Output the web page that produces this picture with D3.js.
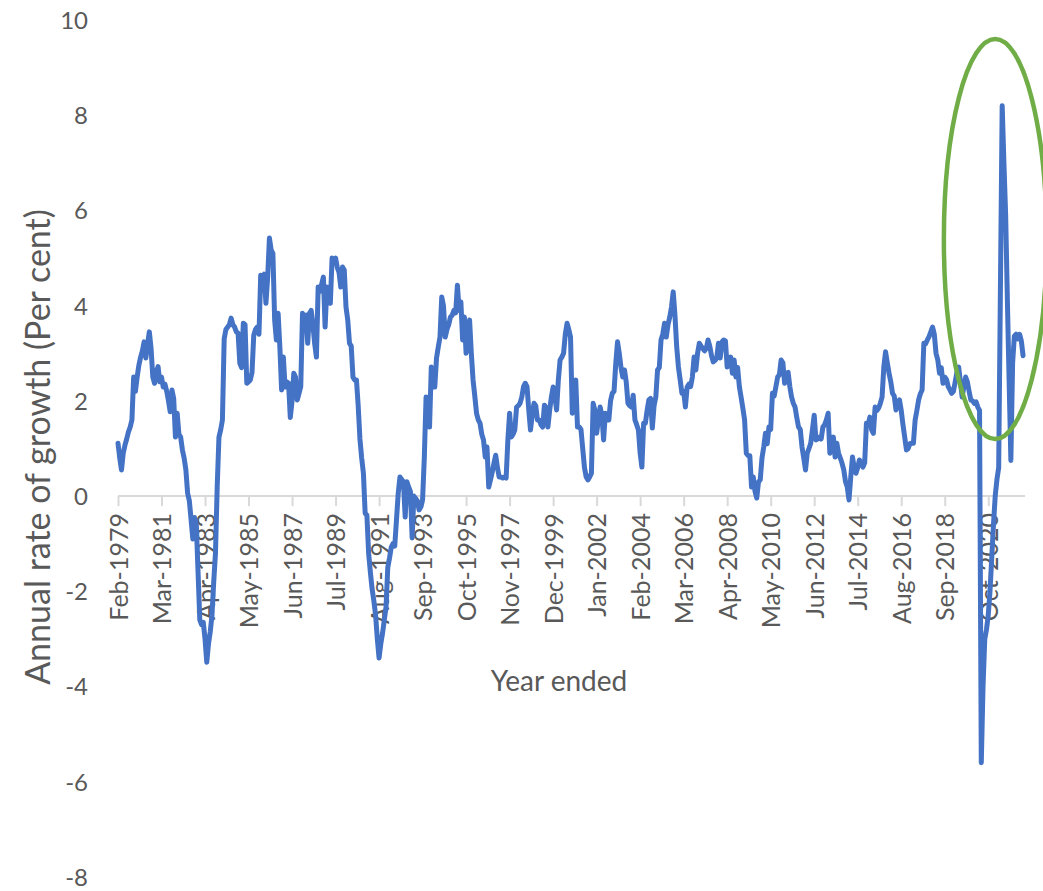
<!DOCTYPE html>
<html>
<head>
<meta charset="utf-8">
<script src="https://cdn.jsdelivr.net/npm/d3@7/dist/d3.min.js"></script>
<style>
  html, body { margin: 0; padding: 0; background: #ffffff; }
  svg { display: block; }
  text { font-family: Lato, "Open Sans", "Liberation Sans", sans-serif; fill: #595959; }
</style>
</head>
<body>
<svg id="chart" width="1043" height="891"></svg>
<script>
// Monthly series, year ended: first observation Feb-1979
const startMonth = new Date(1979, 1, 1);

// Annual rate of growth (per cent), one value per month
const growth = [
  1.11, 0.8, 0.55, 0.9, 1.07, 1.2, 1.35, 1.45, 1.6, 2.5, 2.2, 2.5,
  2.75, 2.92, 3.05, 3.24, 2.9, 3.2, 3.45, 3.1, 2.5, 2.37, 2.6, 2.72,
  2.4, 2.5, 2.29, 2.35, 2.2, 2.0, 1.77, 2.23, 2.05, 1.24, 1.74, 1.3,
  1.24, 0.97, 0.8, 0.55, 0.06, -0.1, -0.5, -0.9, -0.45, -0.6, -1.6, -2.6,
  -2.7, -2.65, -3.0, -3.49, -3.1, -2.85, -2.5, -1.8, -1.2, 0.2, 1.24, 1.39,
  1.6, 3.3, 3.5, 3.55, 3.6, 3.74, 3.6, 3.55, 3.45, 3.42, 2.79, 2.7,
  3.63, 3.6, 2.37, 2.4, 2.44, 2.6, 3.38, 3.5, 3.55, 3.4, 4.64, 4.6,
  4.66, 4.05, 4.6, 5.42, 5.17, 5.1, 3.7, 3.28, 3.84, 3.13, 2.23, 2.92,
  2.29, 2.4, 2.37, 1.65, 2.0, 2.58, 2.5, 2.02, 2.16, 2.3, 3.84, 3.7,
  3.8, 3.21, 3.84, 3.9, 3.6, 3.2, 2.92, 4.39, 4.3, 4.45, 4.6, 3.55,
  4.39, 4.2, 4.05, 5.0, 4.9, 5.0, 4.8, 4.7, 4.39, 4.81, 4.75, 3.97,
  3.7, 3.21, 3.15, 2.5, 2.44, 2.44, 1.9, 1.2, 0.8, 0.48, -0.36, -0.4,
  -1.2, -1.6, -1.95, -2.2, -2.5, -3.0, -3.4, -3.1, -2.88, -2.6, -2.33, -1.5,
  -1.3, -1.07, -1.0, -1.05, -0.5, 0.06, 0.4, 0.35, 0.3, -0.44, 0.3, 0.19,
  0.1, -0.88, 0.0, -0.05, -0.1, -0.29, -0.23, -0.08, 0.82, 2.08, 1.8, 1.45,
  2.71, 2.6, 2.29, 2.9, 3.13, 3.34, 4.18, 4.0, 3.34, 3.5, 3.6, 3.76,
  3.8, 3.9, 3.85, 4.43, 3.9, 4.08, 3.28, 3.76, 3.0, 3.3, 3.7, 3.0,
  2.44, 2.1, 1.74, 1.6, 1.53, 1.3, 1.18, 0.82, 1.03, 0.19, 0.34, 0.5,
  0.69, 0.86, 0.6, 0.4, 0.4, 0.38, 0.4, 0.38, 1.18, 1.74, 1.24, 1.3,
  1.39, 1.87, 1.9, 1.95, 2.08, 2.3, 2.37, 2.3, 1.81, 1.39, 1.7, 1.95,
  1.9, 1.6, 1.6, 1.5, 1.45, 1.91, 1.85, 1.45, 1.8, 2.08, 2.29, 2.1,
  1.81, 2.44, 2.86, 2.92, 3.0, 3.4, 3.63, 3.5, 3.34, 1.74, 1.9, 2.44,
  1.45, 1.45, 1.4, 1.0, 0.6, 0.4, 0.34, 0.4, 0.48, 1.95, 1.8, 1.32,
  1.6, 1.87, 1.7, 1.18, 1.74, 1.65, 1.6, 2.0, 2.16, 2.2, 2.79, 3.24,
  3.0, 2.7, 2.5, 2.65, 2.4, 1.95, 1.9, 1.87, 2.12, 1.6, 1.5, 1.39,
  0.9, 0.61, 1.53, 1.53, 1.8, 2.02, 2.05, 1.43, 1.9, 2.08, 2.65, 2.7,
  3.28, 3.4, 3.63, 3.34, 3.6, 3.76, 3.97, 4.29, 3.8, 3.13, 2.71, 2.44,
  2.16, 2.2, 1.87, 2.29, 2.35, 2.3, 2.5, 2.92, 2.65, 3.0, 3.21, 3.15,
  3.1, 3.05, 3.1, 3.28, 3.15, 2.95, 2.82, 2.85, 2.9, 3.21, 2.9, 3.24,
  3.28, 3.26, 2.71, 2.8, 2.92, 2.58, 2.86, 2.5, 2.7, 2.3, 2.08, 1.85,
  1.6, 0.9, 0.85, 0.85, 0.19, 0.4, 0.1, -0.04, 0.3, 0.34, 0.8, 1.03,
  1.32, 1.1, 1.45, 1.4, 2.16, 2.1, 2.3, 2.5, 2.55, 2.86, 2.8, 2.37,
  2.58, 2.6, 2.3, 2.08, 1.95, 1.87, 1.65, 1.45, 1.4, 1.03, 0.8, 0.55,
  0.9, 1.0, 1.11, 1.4, 1.7, 1.18, 1.2, 1.24, 1.2, 1.45, 1.5, 1.6,
  1.74, 0.9, 1.1, 1.24, 0.82, 1.11, 0.9, 0.8, 0.69, 0.55, 0.3, 0.19,
  -0.08, 0.4, 0.82, 0.6, 0.48, 0.6, 0.76, 0.7, 0.61, 0.7, 1.53, 1.5,
  1.66, 1.39, 1.32, 1.87, 1.8, 1.85, 1.95, 2.08, 2.71, 3.03, 2.8, 2.58,
  2.4, 2.16, 2.1, 1.81, 1.95, 2.02, 1.8, 1.5, 1.24, 0.97, 1.0, 1.1,
  1.11, 1.11, 1.6, 1.8, 2.02, 2.15, 2.23, 3.21, 3.2, 3.28, 3.35, 3.45,
  3.55, 3.4, 3.0, 2.86, 2.58, 2.7, 2.37, 2.5, 2.45, 2.3, 2.23, 2.16,
  2.2, 2.4, 2.6, 2.71, 2.4, 2.08, 2.3, 2.5, 2.4, 2.2, 2.02, 2.0,
  1.95, 1.98, 1.87, 1.8, -5.6, -4.0, -3.0, -2.8, -2.5, -2.0, -1.3, -0.6,
  0.0, 0.35, 0.6, 4.4, 8.2, 7.0, 5.9, 4.1, 2.4, 0.75, 2.8, 3.36,
  3.4, 3.3, 3.4, 3.26, 2.95
];

// Month labels for every observation
const fmt = d3.timeFormat("%b-%Y");
const categories = growth.map((_, i) => fmt(d3.timeMonth.offset(startMonth, i)));

// Category axis labels every 25 months
const tickEvery = 25;
const tickLabels = [
  "Feb-1979", "Mar-1981", "Apr-1983", "May-1985", "Jun-1987", "Jul-1989",
  "Aug-1991", "Sep-1993", "Oct-1995", "Nov-1997", "Dec-1999", "Jan-2002",
  "Feb-2004", "Mar-2006", "Apr-2008", "May-2010", "Jun-2012", "Jul-2014",
  "Aug-2016", "Sep-2018", "Oct-2020"
];

// Value axis ticks
const yTicks = [-8, -6, -4, -2, 0, 2, 4, 6, 8, 10];

// Highlight around the 2020-21 swing: centre month index, centre value, half-extents
const highlight = { centerIndex: 504, centerValue: 5.4, halfMonths: 29.5, halfValue: 4.2 };

const svg = d3.select("#chart");

const x = d3.scaleLinear()
  .domain([0, growth.length - 1])
  .range([118, 118 + 1.7405 * (growth.length - 1)]);

const y = d3.scaleLinear()
  .domain([-8, 10])
  .range([877, 20]);

// Value axis labels (no line), plain hyphen for negatives
const yAxis = d3.axisLeft(y).tickValues(yTicks).tickSize(0).tickPadding(0)
  .tickFormat(d => String(d));
const yg = svg.append("g").attr("transform", "translate(88,0)").call(yAxis);
yg.select(".domain").remove();
yg.selectAll("text")
  .attr("font-family", "Lato, 'Open Sans', sans-serif")
  .attr("font-size", 24)
  .attr("fill", "#595959")
  .attr("dy", "0.35em");

// Category axis drawn along zero
const tickIdx = tickLabels.map((_, k) => k * tickEvery);
const xAxis = d3.axisBottom(x)
  .tickValues(tickIdx)
  .tickSize(10)
  .tickPadding(0)
  .tickFormat(i => tickLabels[i / tickEvery]);
const xg = svg.append("g").attr("transform", `translate(0,${y(0)})`).call(xAxis);
xg.select(".domain")
  .attr("d", `M${x(0)},0H${x(growth.length - 1) + 2}`)
  .attr("stroke", "#d9d9d9")
  .attr("stroke-width", 2);
xg.selectAll(".tick line").attr("stroke", "#d9d9d9").attr("stroke-width", 2);
xg.selectAll(".tick text")
  .attr("font-family", "Lato, 'Open Sans', sans-serif")
  .attr("font-size", 25)
  .attr("fill", "#595959")
  .attr("text-anchor", "end")
  .attr("transform", "rotate(-90)")
  .attr("x", -17)
  .attr("y", 0)
  .attr("dy", "0.36em");

// Series line
const line = d3.line()
  .x((d, i) => x(i))
  .y(d => y(d))
  .curve(d3.curveLinear);

svg.append("path")
  .datum(growth)
  .attr("fill", "none")
  .attr("stroke", "#4472c4")
  .attr("stroke-width", 5)
  .attr("stroke-linejoin", "round")
  .attr("stroke-linecap", "round")
  .attr("d", line);

// Highlight ellipse
svg.append("ellipse")
  .attr("cx", x(highlight.centerIndex))
  .attr("cy", y(highlight.centerValue))
  .attr("rx", x(highlight.halfMonths) - x(0))
  .attr("ry", y(0) - y(highlight.halfValue))
  .attr("fill", "none")
  .attr("stroke", "#70ad47")
  .attr("stroke-width", 4.5);

// Axis titles
svg.append("text")
  .attr("x", 559)
  .attr("y", 680)
  .attr("text-anchor", "middle")
  .attr("dominant-baseline", "central")
  .attr("font-size", 28)
  .text("Year ended");

svg.append("text")
  .attr("transform", "translate(36,447) rotate(-90)")
  .attr("text-anchor", "middle")
  .attr("dominant-baseline", "central")
  .attr("font-size", 34)
  .text("Annual rate of growth (Per cent)");
</script>
</body>
</html>
